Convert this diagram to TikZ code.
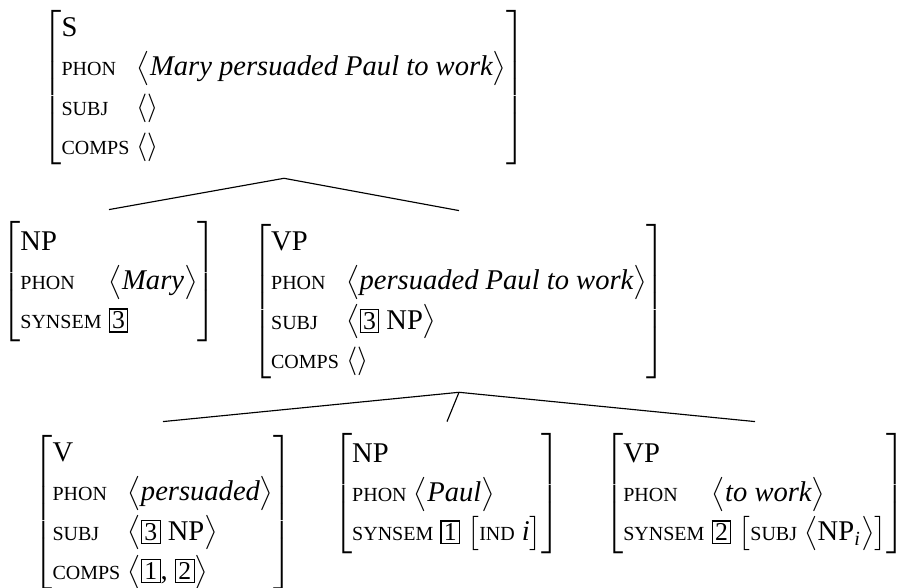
\documentclass[tikz,border=0pt]{standalone}
\usepackage{amsmath}
\usepackage{fontspec}
\setmainfont{Liberation Serif}

\newcommand{\feat}[1]{{\fontsize{7}{8}\selectfont\MakeUppercase{#1}}}
\newcommand{\tagno}[1]{{\setlength{\fboxsep}{0.8pt}\fbox{\small #1}}}
\newcommand{\lst}[1]{\bigl\langle#1\bigr\rangle}
\newcommand{\avmbox}[1]{$\renewcommand{\arraystretch}{1.15}\left[\begin{array}{@{}l@{\hspace{2.5pt}}l@{}}#1\end{array}\right]$}

\begin{document}
\begin{tikzpicture}[x=0.35pt, y=-0.35pt,
        avm/.style={inner sep=0pt, anchor=north},
        branch/.style={line width=0.4pt},
    ]
        \useasboundingbox (0,0) rectangle (906,587);

        % Sentence
        \node[avm] (s) at (284, 8) {\avmbox{
            \text{S} & \\
            \text{\feat{phon}} & \lst{\textit{Mary persuaded Paul to work}} \\
            \text{\feat{subj}} & \langle\rangle \\
            \text{\feat{comps}} & \langle\rangle}};

        % Subject and VP
        \node[avm] (np) at (109, 221) {\avmbox{
            \text{NP} & \\
            \text{\feat{phon}} & \lst{\textit{Mary}} \\
            \text{\feat{synsem}} & \text{\tagno{3}}}};
        \node[avm] (vp) at (459, 222) {\avmbox{
            \text{VP} & \\
            \text{\feat{phon}} & \lst{\textit{persuaded Paul to work}} \\
            \text{\feat{subj}} & \lst{\text{\tagno{3} NP}} \\
            \text{\feat{comps}} & \langle\rangle}};

        % Head and complements
        \node[avm] (v) at (163, 433) {\avmbox{
            \text{V} & \\
            \text{\feat{phon}} & \lst{\textit{persuaded}} \\
            \text{\feat{subj}} & \lst{\text{\tagno{3} NP}} \\
            \text{\feat{comps}} & \lst{\text{\tagno{1}, \tagno{2}}}}};
        \node[avm] (np-obj) at (447, 433) {$\renewcommand{\arraystretch}{1.15}\left[\begin{array}{@{}l@{}}
            \text{NP} \\
            \text{\feat{phon}}\ \lst{\textit{Paul}} \\
            \text{\feat{synsem} \tagno{1}}\ \bigl[\text{\feat{ind} \textit{i}}\bigr]\end{array}\right]$};
        \node[avm] (vp-inf) at (755, 433) {\avmbox{
            \text{VP} & \\
            \text{\feat{phon}} & \lst{\textit{to work}} \\
            \text{\feat{synsem}} & \text{\tagno{2}}\ \bigl[\text{\feat{subj}}\ \lst{\text{NP}_{\textit{i}}}\bigr]}};

        \draw[branch] ([yshift=-4pt]s.south) -- ([yshift=4pt]np.north);
        \draw[branch] ([yshift=-4pt]s.south) -- ([yshift=4pt]vp.north);
        \draw[branch] ([yshift=-4pt]vp.south) -- ([yshift=4pt]v.north);
        \draw[branch] ([yshift=-4pt]vp.south) -- ([yshift=4pt]np-obj.north);
        \draw[branch] ([yshift=-4pt]vp.south) -- ([yshift=4pt]vp-inf.north);
    \end{tikzpicture}
\end{document}
